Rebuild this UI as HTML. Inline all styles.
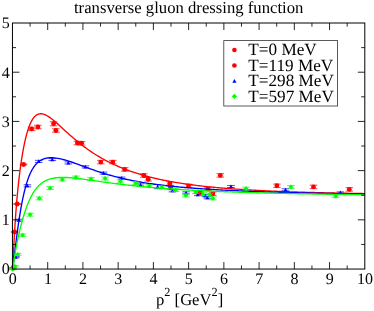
<!DOCTYPE html><html><head><title>transverse gluon dressing function</title><meta charset="utf-8"><style>html,body{margin:0;padding:0;background:#fff}svg{display:block;will-change:transform}text{text-rendering:geometricPrecision;font-family:"Liberation Serif",serif;fill:#000}</style></head><body>
<svg width="374" height="311" viewBox="0 0 374 311">
<rect width="374" height="311" fill="#fff"/>
<clipPath id="c"><rect x="12.45" y="23.0" width="352.35" height="246.05"/></clipPath>
<text x="188.7" y="12.6" font-size="16.7" text-anchor="middle">transverse gluon dressing function</text>
<polyline clip-path="url(#c)" points="12.85,269.10 13.15,261.36 13.44,254.31 13.74,247.84 14.03,241.86 14.33,236.30 14.63,231.11 14.92,226.24 15.22,221.66 15.51,217.33 15.81,213.22 16.11,209.32 16.40,205.60 16.70,202.04 16.99,198.64 17.29,195.39 17.58,192.26 17.88,189.25 18.18,186.36 18.47,183.57 18.77,180.89 19.06,178.29 19.36,175.79 19.66,173.37 19.95,171.03 20.25,168.77 20.54,166.58 20.84,164.46 21.14,162.42 21.43,160.43 21.73,158.51 22.02,156.65 22.32,154.85 22.62,153.11 22.91,151.42 23.21,149.79 23.50,148.21 23.80,146.68 24.10,145.19 24.39,143.76 24.69,142.38 24.98,141.04 25.28,139.74 25.57,138.49 25.87,137.28 26.17,136.11 26.46,134.99 26.76,133.90 27.05,132.85 27.35,131.84 27.65,130.86 27.94,129.92 28.24,129.02 28.53,128.15 28.83,127.32 29.13,126.51 29.42,125.74 29.72,125.00 30.01,124.29 30.31,123.61 30.61,122.96 30.90,122.34 31.20,121.75 31.49,121.18 31.79,120.64 32.09,120.12 32.38,119.63 32.68,119.16 32.97,118.72 33.27,118.30 33.56,117.90 33.86,117.53 34.16,117.17 34.45,116.84 34.75,116.53 35.04,116.23 35.34,115.96 35.64,115.70 35.93,115.47 36.23,115.25 36.52,115.04 36.82,114.86 37.12,114.69 37.41,114.53 37.71,114.39 38.00,114.27 38.30,114.16 38.60,114.07 38.89,113.98 39.19,113.91 39.48,113.86 39.78,113.81 40.08,113.78 40.37,113.76 40.67,113.75 40.96,113.76 41.26,113.77 41.55,113.79 41.85,113.83 42.15,113.87 42.44,113.92 42.74,113.98 43.03,114.05 43.33,114.13 43.63,114.22 43.92,114.31 44.22,114.42 44.51,114.53 44.81,114.64 45.11,114.77 45.40,114.90 45.70,115.04 45.99,115.18 46.29,115.33 46.59,115.48 46.88,115.65 47.18,115.81 47.47,115.98 47.77,116.16 48.06,116.34 49.66,117.39 51.25,118.55 52.84,119.80 54.44,121.11 56.03,122.48 57.62,123.88 59.21,125.31 60.81,126.76 62.40,128.22 63.99,129.67 65.58,131.13 67.18,132.57 68.77,134.00 70.36,135.42 71.95,136.82 73.55,138.19 75.14,139.54 76.73,140.87 78.33,142.18 79.92,143.45 81.51,144.70 83.10,145.93 84.70,147.12 86.29,148.29 87.88,149.43 89.47,150.55 91.07,151.64 92.66,152.70 94.25,153.73 95.84,154.74 97.44,155.72 99.03,156.68 100.62,157.61 102.21,158.52 103.81,159.41 105.40,160.27 106.99,161.11 108.59,161.93 110.18,162.73 111.77,163.51 113.36,164.26 114.96,165.00 116.55,165.71 118.14,166.41 119.73,167.09 121.33,167.75 122.92,168.39 124.51,169.02 126.10,169.63 127.70,170.22 129.29,170.80 130.88,171.36 132.47,171.91 134.07,172.44 135.66,172.96 137.25,173.47 138.85,173.96 140.44,174.44 142.03,174.91 143.62,175.36 145.22,175.81 146.81,176.24 148.40,176.66 149.99,177.07 151.59,177.47 153.18,177.86 154.77,178.24 156.36,178.61 157.96,178.97 159.55,179.32 161.14,179.66 162.73,179.99 164.33,180.32 165.92,180.63 167.51,180.94 169.11,181.24 170.70,181.54 172.29,181.82 173.88,182.10 175.48,182.38 177.07,182.64 178.66,182.90 180.25,183.15 181.85,183.40 183.44,183.64 185.03,183.88 186.62,184.11 188.22,184.33 189.81,184.55 191.40,184.76 193.00,184.97 194.59,185.17 196.18,185.37 197.77,185.56 199.37,185.75 200.96,185.94 202.55,186.12 204.14,186.30 205.74,186.47 207.33,186.64 208.92,186.80 210.51,186.96 212.11,187.12 213.70,187.27 215.29,187.42 216.88,187.57 218.48,187.71 220.07,187.85 221.66,187.99 223.26,188.12 224.85,188.25 226.44,188.38 228.03,188.51 229.63,188.63 231.22,188.75 232.81,188.87 234.40,188.98 236.00,189.09 237.59,189.20 239.18,189.31 240.77,189.42 242.37,189.52 243.96,189.62 245.55,189.72 247.14,189.82 248.74,189.91 250.33,190.01 251.92,190.10 253.52,190.19 255.11,190.27 256.70,190.36 258.29,190.44 259.89,190.52 261.48,190.60 263.07,190.68 264.66,190.76 266.26,190.84 267.85,190.91 269.44,190.98 271.03,191.05 272.63,191.12 274.22,191.19 275.81,191.26 277.40,191.32 279.00,191.39 280.59,191.45 282.18,191.51 283.78,191.57 285.37,191.63 286.96,191.69 288.55,191.75 290.15,191.81 291.74,191.86 293.33,191.92 294.92,191.97 296.52,192.02 298.11,192.07 299.70,192.12 301.29,192.17 302.89,192.22 304.48,192.27 306.07,192.32 307.67,192.36 309.26,192.41 310.85,192.45 312.44,192.50 314.04,192.54 315.63,192.58 317.22,192.62 318.81,192.66 320.41,192.70 322.00,192.74 323.59,192.78 325.18,192.82 326.78,192.86 328.37,192.89 329.96,192.93 331.55,192.96 333.15,193.00 334.74,193.03 336.33,193.07 337.93,193.10 339.52,193.13 341.11,193.16 342.70,193.19 344.30,193.22 345.89,193.25 347.48,193.28 349.07,193.31 350.67,193.34 352.26,193.37 353.85,193.40 355.44,193.43 357.04,193.45 358.63,193.48 360.22,193.51 361.81,193.53 363.41,193.56 365.00,193.58" fill="none" stroke="#ff0000" stroke-width="1.35" stroke-linejoin="round"/>
<path d="M9.10 267.43H16.70M9.10 269.17H16.70M12.90 267.43V269.17" stroke="#ff0000" stroke-width="0.7" fill="none"/>
<circle cx="12.90" cy="268.30" r="2.45" fill="#ff0000"/>
<path d="M10.80 231.56H18.40M10.80 232.44H18.40M14.60 231.56V232.44" stroke="#ff0000" stroke-width="0.7" fill="none"/>
<circle cx="14.60" cy="232.00" r="2.45" fill="#ff0000"/>
<path d="M13.40 203.56H21.00M13.40 204.44H21.00M17.20 203.56V204.44" stroke="#ff0000" stroke-width="0.7" fill="none"/>
<circle cx="17.20" cy="204.00" r="2.45" fill="#ff0000"/>
<path d="M19.80 164.06H27.40M19.80 164.94H27.40M23.60 164.06V164.94" stroke="#ff0000" stroke-width="0.7" fill="none"/>
<circle cx="23.60" cy="164.50" r="2.45" fill="#ff0000"/>
<path d="M27.80 127.16H35.40M27.80 130.64H35.40M31.60 127.16V130.64" stroke="#ff0000" stroke-width="0.7" fill="none"/>
<circle cx="31.60" cy="128.90" r="2.45" fill="#ff0000"/>
<path d="M34.10 125.26H41.70M34.10 128.74H41.70M37.90 125.26V128.74" stroke="#ff0000" stroke-width="0.7" fill="none"/>
<circle cx="37.90" cy="127.00" r="2.45" fill="#ff0000"/>
<path d="M49.80 121.77H57.40M49.80 125.83H57.40M53.60 121.77V125.83" stroke="#ff0000" stroke-width="0.7" fill="none"/>
<circle cx="53.60" cy="123.80" r="2.45" fill="#ff0000"/>
<path d="M52.10 128.76H59.70M52.10 132.24H59.70M55.90 128.76V132.24" stroke="#ff0000" stroke-width="0.7" fill="none"/>
<circle cx="55.90" cy="130.50" r="2.45" fill="#ff0000"/>
<path d="M73.60 141.26H81.20M73.60 144.74H81.20M77.40 141.26V144.74" stroke="#ff0000" stroke-width="0.7" fill="none"/>
<circle cx="77.40" cy="143.00" r="2.45" fill="#ff0000"/>
<path d="M77.80 141.56H85.40M77.80 145.04H85.40M81.60 141.56V145.04" stroke="#ff0000" stroke-width="0.7" fill="none"/>
<circle cx="81.60" cy="143.30" r="2.45" fill="#ff0000"/>
<path d="M97.00 160.36H104.60M97.00 163.84H104.60M100.80 160.36V163.84" stroke="#ff0000" stroke-width="0.7" fill="none"/>
<circle cx="100.80" cy="162.10" r="2.45" fill="#ff0000"/>
<path d="M109.00 160.36H116.60M109.00 163.84H116.60M112.80 160.36V163.84" stroke="#ff0000" stroke-width="0.7" fill="none"/>
<circle cx="112.80" cy="162.10" r="2.45" fill="#ff0000"/>
<path d="M120.90 167.66H128.50M120.90 171.14H128.50M124.70 167.66V171.14" stroke="#ff0000" stroke-width="0.7" fill="none"/>
<circle cx="124.70" cy="169.40" r="2.45" fill="#ff0000"/>
<path d="M140.00 173.76H147.60M140.00 177.24H147.60M143.80 173.76V177.24" stroke="#ff0000" stroke-width="0.7" fill="none"/>
<circle cx="143.80" cy="175.50" r="2.45" fill="#ff0000"/>
<path d="M144.40 177.56H152.00M144.40 181.04H152.00M148.20 177.56V181.04" stroke="#ff0000" stroke-width="0.7" fill="none"/>
<circle cx="148.20" cy="179.30" r="2.45" fill="#ff0000"/>
<path d="M166.00 181.66H173.60M166.00 185.14H173.60M169.80 181.66V185.14" stroke="#ff0000" stroke-width="0.7" fill="none"/>
<circle cx="169.80" cy="183.40" r="2.45" fill="#ff0000"/>
<path d="M166.70 185.76H174.30M166.70 189.24H174.30M170.50 185.76V189.24" stroke="#ff0000" stroke-width="0.7" fill="none"/>
<circle cx="170.50" cy="187.50" r="2.45" fill="#ff0000"/>
<path d="M184.70 184.16H192.30M184.70 187.64H192.30M188.50 184.16V187.64" stroke="#ff0000" stroke-width="0.7" fill="none"/>
<circle cx="188.50" cy="185.90" r="2.45" fill="#ff0000"/>
<path d="M204.20 187.16H211.80M204.20 190.64H211.80M208.00 187.16V190.64" stroke="#ff0000" stroke-width="0.7" fill="none"/>
<circle cx="208.00" cy="188.90" r="2.45" fill="#ff0000"/>
<path d="M196.20 191.26H203.80M196.20 194.74H203.80M200.00 191.26V194.74" stroke="#ff0000" stroke-width="0.7" fill="none"/>
<circle cx="200.00" cy="193.00" r="2.45" fill="#ff0000"/>
<path d="M209.00 192.06H216.60M209.00 195.54H216.60M212.80 192.06V195.54" stroke="#ff0000" stroke-width="0.7" fill="none"/>
<circle cx="212.80" cy="193.80" r="2.45" fill="#ff0000"/>
<path d="M216.50 173.66H224.10M216.50 177.14H224.10M220.30 173.66V177.14" stroke="#ff0000" stroke-width="0.7" fill="none"/>
<circle cx="220.30" cy="175.40" r="2.45" fill="#ff0000"/>
<path d="M273.10 184.06H280.70M273.10 187.54H280.70M276.90 184.06V187.54" stroke="#ff0000" stroke-width="0.7" fill="none"/>
<circle cx="276.90" cy="185.80" r="2.45" fill="#ff0000"/>
<path d="M309.70 185.16H317.30M309.70 188.64H317.30M313.50 185.16V188.64" stroke="#ff0000" stroke-width="0.7" fill="none"/>
<circle cx="313.50" cy="186.90" r="2.45" fill="#ff0000"/>
<path d="M345.50 187.66H353.10M345.50 191.14H353.10M349.30 187.66V191.14" stroke="#ff0000" stroke-width="0.7" fill="none"/>
<circle cx="349.30" cy="189.40" r="2.45" fill="#ff0000"/>
<polyline clip-path="url(#c)" points="12.85,269.10 13.15,266.45 13.44,263.82 13.74,261.20 14.03,258.62 14.33,256.05 14.63,253.51 14.92,251.00 15.22,248.53 15.51,246.08 15.81,243.67 16.11,241.30 16.40,238.96 16.70,236.66 16.99,234.40 17.29,232.18 17.58,230.00 17.88,227.86 18.18,225.76 18.47,223.71 18.77,221.70 19.06,219.73 19.36,217.81 19.66,215.93 19.95,214.09 20.25,212.29 20.54,210.54 20.84,208.83 21.14,207.16 21.43,205.54 21.73,203.96 22.02,202.41 22.32,200.91 22.62,199.45 22.91,198.03 23.21,196.64 23.50,195.30 23.80,193.99 24.10,192.72 24.39,191.49 24.69,190.29 24.98,189.12 25.28,187.99 25.57,186.90 25.87,185.83 26.17,184.80 26.46,183.80 26.76,182.83 27.05,181.89 27.35,180.98 27.65,180.10 27.94,179.24 28.24,178.42 28.53,177.61 28.83,176.84 29.13,176.09 29.42,175.36 29.72,174.65 30.01,173.97 30.31,173.31 30.61,172.68 30.90,172.06 31.20,171.46 31.49,170.89 31.79,170.33 32.09,169.79 32.38,169.27 32.68,168.77 32.97,168.29 33.27,167.82 33.56,167.37 33.86,166.93 34.16,166.51 34.45,166.11 34.75,165.71 35.04,165.34 35.34,164.97 35.64,164.62 35.93,164.28 36.23,163.96 36.52,163.64 36.82,163.34 37.12,163.05 37.41,162.77 37.71,162.50 38.00,162.24 38.30,161.99 38.60,161.76 38.89,161.53 39.19,161.31 39.48,161.09 39.78,160.89 40.08,160.70 40.37,160.51 40.67,160.33 40.96,160.16 41.26,160.00 41.55,159.84 41.85,159.70 42.15,159.55 42.44,159.42 42.74,159.29 43.03,159.17 43.33,159.05 43.63,158.94 43.92,158.84 44.22,158.74 44.51,158.65 44.81,158.56 45.11,158.48 45.40,158.40 45.70,158.33 45.99,158.26 46.29,158.19 46.59,158.14 46.88,158.08 47.18,158.03 47.47,157.98 47.77,157.94 48.06,157.91 49.66,157.77 51.25,157.72 52.84,157.77 54.44,157.89 56.03,158.07 57.62,158.31 59.21,158.61 60.81,158.95 62.40,159.33 63.99,159.74 65.58,160.19 67.18,160.66 68.77,161.16 70.36,161.68 71.95,162.21 73.55,162.76 75.14,163.32 76.73,163.89 78.33,164.46 79.92,165.04 81.51,165.63 83.10,166.21 84.70,166.80 86.29,167.38 87.88,167.96 89.47,168.53 91.07,169.10 92.66,169.67 94.25,170.22 95.84,170.77 97.44,171.31 99.03,171.83 100.62,172.35 102.21,172.86 103.81,173.36 105.40,173.85 106.99,174.33 108.59,174.80 110.18,175.25 111.77,175.70 113.36,176.13 114.96,176.56 116.55,176.97 118.14,177.38 119.73,177.77 121.33,178.15 122.92,178.52 124.51,178.89 126.10,179.24 127.70,179.59 129.29,179.92 130.88,180.25 132.47,180.57 134.07,180.87 135.66,181.18 137.25,181.47 138.85,181.75 140.44,182.03 142.03,182.30 143.62,182.56 145.22,182.82 146.81,183.07 148.40,183.31 149.99,183.55 151.59,183.78 153.18,184.00 154.77,184.22 156.36,184.44 157.96,184.64 159.55,184.85 161.14,185.05 162.73,185.24 164.33,185.43 165.92,185.61 167.51,185.79 169.11,185.96 170.70,186.13 172.29,186.30 173.88,186.46 175.48,186.62 177.07,186.77 178.66,186.93 180.25,187.07 181.85,187.22 183.44,187.36 185.03,187.50 186.62,187.63 188.22,187.76 189.81,187.89 191.40,188.02 193.00,188.14 194.59,188.26 196.18,188.38 197.77,188.50 199.37,188.61 200.96,188.72 202.55,188.83 204.14,188.94 205.74,189.04 207.33,189.14 208.92,189.24 210.51,189.34 212.11,189.44 213.70,189.53 215.29,189.62 216.88,189.72 218.48,189.80 220.07,189.89 221.66,189.98 223.26,190.06 224.85,190.14 226.44,190.22 228.03,190.30 229.63,190.38 231.22,190.46 232.81,190.53 234.40,190.61 236.00,190.68 237.59,190.75 239.18,190.82 240.77,190.89 242.37,190.96 243.96,191.03 245.55,191.09 247.14,191.15 248.74,191.22 250.33,191.28 251.92,191.34 253.52,191.40 255.11,191.46 256.70,191.52 258.29,191.58 259.89,191.63 261.48,191.69 263.07,191.74 264.66,191.80 266.26,191.85 267.85,191.90 269.44,191.95 271.03,192.00 272.63,192.05 274.22,192.10 275.81,192.15 277.40,192.20 279.00,192.25 280.59,192.29 282.18,192.34 283.78,192.38 285.37,192.43 286.96,192.47 288.55,192.52 290.15,192.56 291.74,192.60 293.33,192.64 294.92,192.68 296.52,192.72 298.11,192.76 299.70,192.80 301.29,192.84 302.89,192.88 304.48,192.92 306.07,192.95 307.67,192.99 309.26,193.03 310.85,193.06 312.44,193.10 314.04,193.13 315.63,193.17 317.22,193.20 318.81,193.23 320.41,193.27 322.00,193.30 323.59,193.33 325.18,193.36 326.78,193.39 328.37,193.43 329.96,193.46 331.55,193.49 333.15,193.52 334.74,193.55 336.33,193.58 337.93,193.60 339.52,193.63 341.11,193.66 342.70,193.69 344.30,193.72 345.89,193.74 347.48,193.77 349.07,193.80 350.67,193.82 352.26,193.85 353.85,193.88 355.44,193.90 357.04,193.93 358.63,193.95 360.22,193.98 361.81,194.00 363.41,194.02 365.00,194.05" fill="none" stroke="#0000ff" stroke-width="1.35" stroke-linejoin="round"/>
<path d="M12.10 256.62H19.70M12.10 257.78H19.70M15.90 256.62V257.78" stroke="#0000ff" stroke-width="0.7" fill="none"/>
<path d="M15.90 255.15L17.85 258.74H13.95Z" fill="#0000ff"/>
<path d="M15.10 219.23H22.70M15.10 220.97H22.70M18.90 219.23V220.97" stroke="#0000ff" stroke-width="0.7" fill="none"/>
<path d="M18.90 218.05L20.85 221.64H16.95Z" fill="#0000ff"/>
<path d="M23.60 184.77H31.20M23.60 186.83H31.20M27.40 184.77V186.83" stroke="#0000ff" stroke-width="0.7" fill="none"/>
<path d="M27.40 183.75L29.35 187.34H25.45Z" fill="#0000ff"/>
<path d="M34.90 160.37H42.50M34.90 162.43H42.50M38.70 160.37V162.43" stroke="#0000ff" stroke-width="0.7" fill="none"/>
<path d="M38.70 159.35L40.65 162.94H36.75Z" fill="#0000ff"/>
<path d="M48.50 158.64H56.10M48.50 160.56H56.10M52.30 158.64V160.56" stroke="#0000ff" stroke-width="0.7" fill="none"/>
<path d="M52.30 157.55L54.25 161.14H50.35Z" fill="#0000ff"/>
<path d="M64.50 161.87H72.10M64.50 163.93H72.10M68.30 161.87V163.93" stroke="#0000ff" stroke-width="0.7" fill="none"/>
<path d="M68.30 160.85L70.25 164.44H66.35Z" fill="#0000ff"/>
<path d="M81.60 165.87H89.20M81.60 167.93H89.20M85.40 165.87V167.93" stroke="#0000ff" stroke-width="0.7" fill="none"/>
<path d="M85.40 164.85L87.35 168.44H83.45Z" fill="#0000ff"/>
<path d="M99.70 172.07H107.30M99.70 174.13H107.30M103.50 172.07V174.13" stroke="#0000ff" stroke-width="0.7" fill="none"/>
<path d="M103.50 171.05L105.45 174.64H101.55Z" fill="#0000ff"/>
<path d="M117.80 177.07H125.40M117.80 179.13H125.40M121.60 177.07V179.13" stroke="#0000ff" stroke-width="0.7" fill="none"/>
<path d="M121.60 176.05L123.55 179.64H119.65Z" fill="#0000ff"/>
<path d="M136.70 183.87H144.30M136.70 185.93H144.30M140.50 183.87V185.93" stroke="#0000ff" stroke-width="0.7" fill="none"/>
<path d="M140.50 182.85L142.45 186.44H138.55Z" fill="#0000ff"/>
<path d="M153.80 184.57H161.40M153.80 188.63H161.40M157.60 184.57V188.63" stroke="#0000ff" stroke-width="0.7" fill="none"/>
<path d="M157.60 184.55L159.55 188.14H155.65Z" fill="#0000ff"/>
<path d="M168.70 189.77H176.30M168.70 191.83H176.30M172.50 189.77V191.83" stroke="#0000ff" stroke-width="0.7" fill="none"/>
<path d="M172.50 188.75L174.45 192.34H170.55Z" fill="#0000ff"/>
<path d="M182.20 191.87H189.80M182.20 193.93H189.80M186.00 191.87V193.93" stroke="#0000ff" stroke-width="0.7" fill="none"/>
<path d="M186.00 190.85L187.95 194.44H184.05Z" fill="#0000ff"/>
<path d="M194.00 193.57H201.60M194.00 195.63H201.60M197.80 193.57V195.63" stroke="#0000ff" stroke-width="0.7" fill="none"/>
<path d="M197.80 192.55L199.75 196.14H195.85Z" fill="#0000ff"/>
<path d="M201.50 194.67H209.10M201.50 196.73H209.10M205.30 194.67V196.73" stroke="#0000ff" stroke-width="0.7" fill="none"/>
<path d="M205.30 193.65L207.25 197.24H203.35Z" fill="#0000ff"/>
<path d="M203.60 196.77H211.20M203.60 198.83H211.20M207.40 196.77V198.83" stroke="#0000ff" stroke-width="0.7" fill="none"/>
<path d="M207.40 195.75L209.35 199.34H205.45Z" fill="#0000ff"/>
<path d="M227.20 185.47H234.80M227.20 187.53H234.80M231.00 185.47V187.53" stroke="#0000ff" stroke-width="0.7" fill="none"/>
<path d="M231.00 184.45L232.95 188.04H229.05Z" fill="#0000ff"/>
<path d="M281.70 188.77H289.30M281.70 190.83H289.30M285.50 188.77V190.83" stroke="#0000ff" stroke-width="0.7" fill="none"/>
<path d="M285.50 187.75L287.45 191.34H283.55Z" fill="#0000ff"/>
<path d="M336.60 191.88H344.20M336.60 193.32H344.20M340.40 191.88V193.32" stroke="#0000ff" stroke-width="0.7" fill="none"/>
<path d="M340.40 190.55L342.35 194.14H338.45Z" fill="#0000ff"/>
<polyline clip-path="url(#c)" points="12.85,269.10 13.15,266.76 13.44,264.52 13.74,262.38 14.03,260.32 14.33,258.34 14.63,256.43 14.92,254.58 15.22,252.80 15.51,251.07 15.81,249.39 16.11,247.76 16.40,246.17 16.70,244.63 16.99,243.12 17.29,241.64 17.58,240.20 17.88,238.79 18.18,237.41 18.47,236.06 18.77,234.73 19.06,233.43 19.36,232.16 19.66,230.90 19.95,229.67 20.25,228.46 20.54,227.28 20.84,226.11 21.14,224.96 21.43,223.83 21.73,222.73 22.02,221.64 22.32,220.57 22.62,219.51 22.91,218.48 23.21,217.46 23.50,216.47 23.80,215.49 24.10,214.52 24.39,213.58 24.69,212.65 24.98,211.74 25.28,210.85 25.57,209.97 25.87,209.12 26.17,208.27 26.46,207.45 26.76,206.64 27.05,205.85 27.35,205.07 27.65,204.31 27.94,203.57 28.24,202.84 28.53,202.13 28.83,201.43 29.13,200.75 29.42,200.09 29.72,199.44 30.01,198.80 30.31,198.18 30.61,197.57 30.90,196.98 31.20,196.40 31.49,195.84 31.79,195.29 32.09,194.75 32.38,194.23 32.68,193.71 32.97,193.21 33.27,192.73 33.56,192.25 33.86,191.79 34.16,191.34 34.45,190.90 34.75,190.47 35.04,190.05 35.34,189.65 35.64,189.25 35.93,188.87 36.23,188.49 36.52,188.13 36.82,187.77 37.12,187.42 37.41,187.09 37.71,186.76 38.00,186.44 38.30,186.13 38.60,185.83 38.89,185.54 39.19,185.25 39.48,184.97 39.78,184.70 40.08,184.44 40.37,184.19 40.67,183.94 40.96,183.70 41.26,183.46 41.55,183.24 41.85,183.02 42.15,182.80 42.44,182.59 42.74,182.39 43.03,182.20 43.33,182.01 43.63,181.82 43.92,181.64 44.22,181.47 44.51,181.30 44.81,181.14 45.11,180.98 45.40,180.83 45.70,180.68 45.99,180.54 46.29,180.40 46.59,180.26 46.88,180.13 47.18,180.01 47.47,179.89 47.77,179.77 48.06,179.65 49.66,179.11 51.25,178.65 52.84,178.29 54.44,178.00 56.03,177.78 57.62,177.62 59.21,177.51 60.81,177.44 62.40,177.42 63.99,177.43 65.58,177.47 67.18,177.54 68.77,177.64 70.36,177.75 71.95,177.89 73.55,178.03 75.14,178.20 76.73,178.37 78.33,178.56 79.92,178.75 81.51,178.96 83.10,179.17 84.70,179.38 86.29,179.60 87.88,179.82 89.47,180.04 91.07,180.27 92.66,180.49 94.25,180.72 95.84,180.95 97.44,181.17 99.03,181.40 100.62,181.62 102.21,181.85 103.81,182.07 105.40,182.29 106.99,182.50 108.59,182.72 110.18,182.93 111.77,183.14 113.36,183.35 114.96,183.55 116.55,183.76 118.14,183.96 119.73,184.15 121.33,184.34 122.92,184.53 124.51,184.72 126.10,184.91 127.70,185.09 129.29,185.26 130.88,185.44 132.47,185.61 134.07,185.78 135.66,185.95 137.25,186.11 138.85,186.27 140.44,186.43 142.03,186.58 143.62,186.73 145.22,186.88 146.81,187.03 148.40,187.17 149.99,187.31 151.59,187.45 153.18,187.58 154.77,187.72 156.36,187.85 157.96,187.97 159.55,188.10 161.14,188.22 162.73,188.34 164.33,188.46 165.92,188.58 167.51,188.70 169.11,188.81 170.70,188.92 172.29,189.03 173.88,189.13 175.48,189.24 177.07,189.34 178.66,189.44 180.25,189.54 181.85,189.64 183.44,189.73 185.03,189.83 186.62,189.92 188.22,190.01 189.81,190.10 191.40,190.18 193.00,190.27 194.59,190.35 196.18,190.44 197.77,190.52 199.37,190.60 200.96,190.68 202.55,190.75 204.14,190.83 205.74,190.90 207.33,190.98 208.92,191.05 210.51,191.12 212.11,191.19 213.70,191.26 215.29,191.32 216.88,191.39 218.48,191.46 220.07,191.52 221.66,191.58 223.26,191.64 224.85,191.71 226.44,191.77 228.03,191.82 229.63,191.88 231.22,191.94 232.81,192.00 234.40,192.05 236.00,192.11 237.59,192.16 239.18,192.21 240.77,192.26 242.37,192.32 243.96,192.37 245.55,192.42 247.14,192.46 248.74,192.51 250.33,192.56 251.92,192.61 253.52,192.65 255.11,192.70 256.70,192.74 258.29,192.79 259.89,192.83 261.48,192.87 263.07,192.92 264.66,192.96 266.26,193.00 267.85,193.04 269.44,193.08 271.03,193.12 272.63,193.16 274.22,193.20 275.81,193.23 277.40,193.27 279.00,193.31 280.59,193.34 282.18,193.38 283.78,193.41 285.37,193.45 286.96,193.48 288.55,193.52 290.15,193.55 291.74,193.58 293.33,193.62 294.92,193.65 296.52,193.68 298.11,193.71 299.70,193.74 301.29,193.77 302.89,193.80 304.48,193.83 306.07,193.86 307.67,193.89 309.26,193.92 310.85,193.95 312.44,193.97 314.04,194.00 315.63,194.03 317.22,194.06 318.81,194.08 320.41,194.11 322.00,194.13 323.59,194.16 325.18,194.18 326.78,194.21 328.37,194.23 329.96,194.26 331.55,194.28 333.15,194.31 334.74,194.33 336.33,194.35 337.93,194.38 339.52,194.40 341.11,194.42 342.70,194.44 344.30,194.47 345.89,194.49 347.48,194.51 349.07,194.53 350.67,194.55 352.26,194.57 353.85,194.59 355.44,194.61 357.04,194.63 358.63,194.65 360.22,194.67 361.81,194.69 363.41,194.71 365.00,194.73" fill="none" stroke="#00ff00" stroke-width="1.35" stroke-linejoin="round"/>
<path d="M8.90 268.59H16.50M8.90 269.81H16.50M12.70 268.59V269.81" stroke="#00ff00" stroke-width="0.7" fill="none"/>
<path d="M12.70 266.80L15.10 269.20L12.70 271.60L10.30 269.20Z" fill="#00ff00"/>
<path d="M11.10 265.49H18.70M11.10 267.11H18.70M14.90 265.49V267.11" stroke="#00ff00" stroke-width="0.7" fill="none"/>
<path d="M14.90 263.90L17.30 266.30L14.90 268.70L12.50 266.30Z" fill="#00ff00"/>
<path d="M13.95 253.39H21.55M13.95 255.41H21.55M17.75 253.39V255.41" stroke="#00ff00" stroke-width="0.7" fill="none"/>
<path d="M17.75 252.00L20.15 254.40L17.75 256.80L15.35 254.40Z" fill="#00ff00"/>
<path d="M18.80 233.98H26.40M18.80 236.42H26.40M22.60 233.98V236.42" stroke="#00ff00" stroke-width="0.7" fill="none"/>
<path d="M22.60 232.80L25.00 235.20L22.60 237.60L20.20 235.20Z" fill="#00ff00"/>
<path d="M26.30 213.28H33.90M26.30 216.12H33.90M30.10 213.28V216.12" stroke="#00ff00" stroke-width="0.7" fill="none"/>
<path d="M30.10 212.30L32.50 214.70L30.10 217.10L27.70 214.70Z" fill="#00ff00"/>
<path d="M35.50 196.98H43.10M35.50 199.82H43.10M39.30 196.98V199.82" stroke="#00ff00" stroke-width="0.7" fill="none"/>
<path d="M39.30 196.00L41.70 198.40L39.30 200.80L36.90 198.40Z" fill="#00ff00"/>
<path d="M46.30 186.68H53.90M46.30 189.52H53.90M50.10 186.68V189.52" stroke="#00ff00" stroke-width="0.7" fill="none"/>
<path d="M50.10 185.70L52.50 188.10L50.10 190.50L47.70 188.10Z" fill="#00ff00"/>
<path d="M58.50 178.08H66.10M58.50 180.92H66.10M62.30 178.08V180.92" stroke="#00ff00" stroke-width="0.7" fill="none"/>
<path d="M62.30 177.10L64.70 179.50L62.30 181.90L59.90 179.50Z" fill="#00ff00"/>
<path d="M72.10 176.08H79.70M72.10 178.92H79.70M75.90 176.08V178.92" stroke="#00ff00" stroke-width="0.7" fill="none"/>
<path d="M75.90 175.10L78.30 177.50L75.90 179.90L73.50 177.50Z" fill="#00ff00"/>
<path d="M87.20 177.58H94.80M87.20 180.42H94.80M91.00 177.58V180.42" stroke="#00ff00" stroke-width="0.7" fill="none"/>
<path d="M91.00 176.60L93.40 179.00L91.00 181.40L88.60 179.00Z" fill="#00ff00"/>
<path d="M101.30 177.08H108.90M101.30 179.92H108.90M105.10 177.08V179.92" stroke="#00ff00" stroke-width="0.7" fill="none"/>
<path d="M105.10 176.10L107.50 178.50L105.10 180.90L102.70 178.50Z" fill="#00ff00"/>
<path d="M116.60 179.98H124.20M116.60 182.82H124.20M120.40 179.98V182.82" stroke="#00ff00" stroke-width="0.7" fill="none"/>
<path d="M120.40 179.00L122.80 181.40L120.40 183.80L118.00 181.40Z" fill="#00ff00"/>
<path d="M131.70 181.68H139.30M131.70 184.52H139.30M135.50 181.68V184.52" stroke="#00ff00" stroke-width="0.7" fill="none"/>
<path d="M135.50 180.70L137.90 183.10L135.50 185.50L133.10 183.10Z" fill="#00ff00"/>
<path d="M145.50 184.68H153.10M145.50 187.52H153.10M149.30 184.68V187.52" stroke="#00ff00" stroke-width="0.7" fill="none"/>
<path d="M149.30 183.70L151.70 186.10L149.30 188.50L146.90 186.10Z" fill="#00ff00"/>
<path d="M158.00 185.98H165.60M158.00 188.82H165.60M161.80 185.98V188.82" stroke="#00ff00" stroke-width="0.7" fill="none"/>
<path d="M161.80 185.00L164.20 187.40L161.80 189.80L159.40 187.40Z" fill="#00ff00"/>
<path d="M171.70 188.68H179.30M171.70 191.52H179.30M175.50 188.68V191.52" stroke="#00ff00" stroke-width="0.7" fill="none"/>
<path d="M175.50 187.70L177.90 190.10L175.50 192.50L173.10 190.10Z" fill="#00ff00"/>
<path d="M182.00 193.98H189.60M182.00 196.82H189.60M185.80 193.98V196.82" stroke="#00ff00" stroke-width="0.7" fill="none"/>
<path d="M185.80 193.00L188.20 195.40L185.80 197.80L183.40 195.40Z" fill="#00ff00"/>
<path d="M191.90 190.68H199.50M191.90 193.52H199.50M195.70 190.68V193.52" stroke="#00ff00" stroke-width="0.7" fill="none"/>
<path d="M195.70 189.70L198.10 192.10L195.70 194.50L193.30 192.10Z" fill="#00ff00"/>
<path d="M199.20 192.78H206.80M199.20 195.62H206.80M203.00 192.78V195.62" stroke="#00ff00" stroke-width="0.7" fill="none"/>
<path d="M203.00 191.80L205.40 194.20L203.00 196.60L200.60 194.20Z" fill="#00ff00"/>
<path d="M205.80 193.18H213.40M205.80 196.02H213.40M209.60 193.18V196.02" stroke="#00ff00" stroke-width="0.7" fill="none"/>
<path d="M209.60 192.20L212.00 194.60L209.60 197.00L207.20 194.60Z" fill="#00ff00"/>
<path d="M209.00 196.98H216.60M209.00 199.82H216.60M212.80 196.98V199.82" stroke="#00ff00" stroke-width="0.7" fill="none"/>
<path d="M212.80 196.00L215.20 198.40L212.80 200.80L210.40 198.40Z" fill="#00ff00"/>
<path d="M242.20 187.18H249.80M242.20 190.02H249.80M246.00 187.18V190.02" stroke="#00ff00" stroke-width="0.7" fill="none"/>
<path d="M246.00 186.20L248.40 188.60L246.00 191.00L243.60 188.60Z" fill="#00ff00"/>
<path d="M287.10 185.48H294.70M287.10 188.32H294.70M290.90 185.48V188.32" stroke="#00ff00" stroke-width="0.7" fill="none"/>
<path d="M290.90 184.50L293.30 186.90L290.90 189.30L288.50 186.90Z" fill="#00ff00"/>
<path d="M331.90 194.78H339.50M331.90 197.62H339.50M335.70 194.78V197.62" stroke="#00ff00" stroke-width="0.7" fill="none"/>
<path d="M335.70 193.80L338.10 196.20L335.70 198.60L333.30 196.20Z" fill="#00ff00"/>
<rect x="12.45" y="23.0" width="352.35" height="246.05" fill="none" stroke="#000" stroke-width="1"/>
<path d="M30.07 269.05v-3.6M30.07 23.0v3.6M47.69 269.05v-7.0M47.69 23.0v7.0M65.30 269.05v-3.6M65.30 23.0v3.6M82.92 269.05v-7.0M82.92 23.0v7.0M100.54 269.05v-3.6M100.54 23.0v3.6M118.16 269.05v-7.0M118.16 23.0v7.0M135.77 269.05v-3.6M135.77 23.0v3.6M153.39 269.05v-7.0M153.39 23.0v7.0M171.01 269.05v-3.6M171.01 23.0v3.6M188.62 269.05v-7.0M188.62 23.0v7.0M206.24 269.05v-3.6M206.24 23.0v3.6M223.86 269.05v-7.0M223.86 23.0v7.0M241.48 269.05v-3.6M241.48 23.0v3.6M259.09 269.05v-7.0M259.09 23.0v7.0M276.71 269.05v-3.6M276.71 23.0v3.6M294.33 269.05v-7.0M294.33 23.0v7.0M311.95 269.05v-3.6M311.95 23.0v3.6M329.56 269.05v-7.0M329.56 23.0v7.0M347.18 269.05v-3.6M347.18 23.0v3.6M12.45 244.45h3.6M364.8 244.45h-3.6M12.45 219.84h7.0M364.8 219.84h-7.0M12.45 195.24h3.6M364.8 195.24h-3.6M12.45 170.63h7.0M364.8 170.63h-7.0M12.45 146.03h3.6M364.8 146.03h-3.6M12.45 121.42h7.0M364.8 121.42h-7.0M12.45 96.81h3.6M364.8 96.81h-3.6M12.45 72.21h7.0M364.8 72.21h-7.0M12.45 47.61h3.6M364.8 47.61h-3.6" stroke="#000" stroke-width="0.85" fill="none"/>
<text x="12.65" y="284.0" font-size="16.0" text-anchor="middle">0</text>
<text x="47.89" y="284.0" font-size="16.0" text-anchor="middle">1</text>
<text x="83.12" y="284.0" font-size="16.0" text-anchor="middle">2</text>
<text x="118.36" y="284.0" font-size="16.0" text-anchor="middle">3</text>
<text x="153.59" y="284.0" font-size="16.0" text-anchor="middle">4</text>
<text x="188.82" y="284.0" font-size="16.0" text-anchor="middle">5</text>
<text x="224.06" y="284.0" font-size="16.0" text-anchor="middle">6</text>
<text x="259.29" y="284.0" font-size="16.0" text-anchor="middle">7</text>
<text x="294.53" y="284.0" font-size="16.0" text-anchor="middle">8</text>
<text x="329.76" y="284.0" font-size="16.0" text-anchor="middle">9</text>
<text x="365.00" y="284.0" font-size="16.0" text-anchor="middle">10</text>
<text x="9.8" y="274.35" font-size="16.0" text-anchor="end">0</text>
<text x="9.8" y="225.14" font-size="16.0" text-anchor="end">1</text>
<text x="9.8" y="175.93" font-size="16.0" text-anchor="end">2</text>
<text x="9.8" y="126.72" font-size="16.0" text-anchor="end">3</text>
<text x="9.8" y="77.51" font-size="16.0" text-anchor="end">4</text>
<text x="9.8" y="28.30" font-size="16.0" text-anchor="end">5</text>
<text x="156" y="305.3" font-size="16.6">p<tspan dy="-9.1" font-size="12.3">2</tspan><tspan dy="9.1"> [GeV</tspan><tspan dy="-9.1" font-size="12.3">2</tspan><tspan dy="9.1">]</tspan></text>
<rect x="223.8" y="40.6" width="113.8" height="65.4" fill="#fff" stroke="#333" stroke-width="0.8"/>
<text x="248.3" y="55.3" font-size="17.2">T=0 MeV</text>
<text x="248.3" y="70.7" font-size="17.2">T=119 MeV</text>
<text x="248.3" y="86.15" font-size="17.2">T=298 MeV</text>
<text x="248.3" y="101.6" font-size="17.2">T=597 MeV</text>
<circle cx="234.40" cy="50.05" r="2.3" fill="#ff0000"/>
<circle cx="234.40" cy="65.45" r="2.3" fill="#ff0000"/>
<path d="M234.40 78.95L236.49 82.80H232.31Z" fill="#0000ff"/>
<path d="M234.40 93.80L237.00 96.40L234.40 99.00L231.80 96.40Z" fill="#00ff00"/>
</svg></body></html>
